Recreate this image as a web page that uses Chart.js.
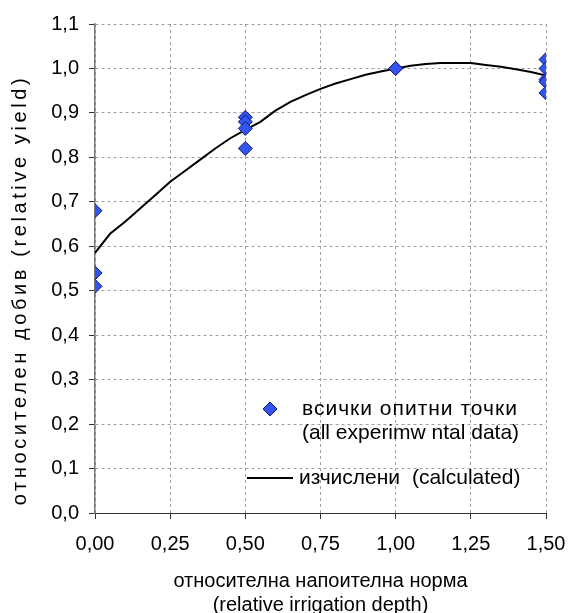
<!DOCTYPE html>
<html>
<head>
<meta charset="utf-8">
<script src="https://cdn.jsdelivr.net/npm/chart.js@4/dist/chart.umd.min.js"></script>
<style>
html,body{margin:0;padding:0;background:#fff;}
#wrap{width:568px;height:613px;position:relative;}
</style>
</head>
<body>
<div id="wrap"><canvas id="c" width="568" height="613"></canvas></div>
<script>
// Observed points (all experimental data)
const obsX = [0, 0, 0, 0.5, 0.5, 0.5, 0.5, 1.0, 1.0, 1.5, 1.5, 1.5, 1.5, 1.5];
const obsY = [0.68, 0.54, 0.51, 0.89, 0.88, 0.865, 0.82, 1.0, 1.0, 1.02, 1.0, 0.975, 0.97, 0.945];

// Calculated curve
const calcX = [0, 0.05, 0.1, 0.15, 0.2, 0.25, 0.3, 0.35, 0.4, 0.45, 0.5, 0.55, 0.6, 0.65, 0.7, 0.75,
               0.8, 0.85, 0.9, 0.95, 1.0, 1.05, 1.1, 1.15, 1.2, 1.25, 1.3, 1.35, 1.4, 1.45, 1.5];
const calcY = [0.585, 0.628, 0.655, 0.685, 0.715, 0.745, 0.770, 0.795, 0.820, 0.843, 0.862, 0.880,
               0.905, 0.925, 0.940, 0.954, 0.966, 0.976, 0.986, 0.993, 1.000, 1.006, 1.010, 1.012,
               1.012, 1.012, 1.008, 1.004, 0.998, 0.992, 0.984];

const yTicks = [0, 0.1, 0.2, 0.3, 0.4, 0.5, 0.6, 0.7, 0.8, 0.9, 1.0, 1.1];
const xTicks = [0, 0.25, 0.5, 0.75, 1.0, 1.25, 1.5];

const legendLabels = [['всички опитни точки', '(all experimw ntal data)'], ['изчислени (calculated)']];
const yTitle = 'относителен добив (relative yield)';
const xTitle = ['относителна напоителна норма', '(relative irrigation depth)'];

const FONT = '"Liberation Sans", Arial, sans-serif';
const PT_FILL = '#3355ee';
const PT_BORDER = '#101a80';

const textPlugin = {
  id: 'customText',
  afterDraw(chart) {
    const ctx = chart.ctx;
    const ca = chart.chartArea;
    ctx.save();
    // y-axis title (rotated, spaced like the original)
    ctx.save();
    ctx.translate(20, 290);
    ctx.rotate(-Math.PI / 2);
    ctx.font = '20px ' + FONT;
    ctx.letterSpacing = '3.6px';
    ctx.fillStyle = '#000';
    ctx.textAlign = 'center';
    ctx.textBaseline = 'middle';
    ctx.fillText(yTitle, 0, 0);
    ctx.restore();

    ctx.font = '21px ' + FONT;
    ctx.fillStyle = '#000';
    ctx.textBaseline = 'middle';
    ctx.textAlign = 'left';
    // diamond marker
    const dx = ca.left + 175, dy = ca.top + 385;
    const r = 7;
    ctx.beginPath();
    ctx.moveTo(dx, dy - r); ctx.lineTo(dx + r, dy); ctx.lineTo(dx, dy + r); ctx.lineTo(dx - r, dy); ctx.closePath();
    ctx.fillStyle = PT_FILL; ctx.fill();
    ctx.strokeStyle = PT_BORDER; ctx.lineWidth = 1; ctx.stroke();
    ctx.fillStyle = '#000';
    ctx.letterSpacing = '1px';
    ctx.fillText(legendLabels[0][0], ca.left + 207, dy);
    ctx.letterSpacing = '0px';
    ctx.fillText(legendLabels[0][1], ca.left + 207, dy + 24);
    // line sample
    const ly = ca.top + 454;
    ctx.beginPath();
    ctx.moveTo(ca.left + 152, ly); ctx.lineTo(ca.left + 198, ly);
    ctx.strokeStyle = '#000'; ctx.lineWidth = 2; ctx.stroke();
    ctx.wordSpacing = '6px';
    ctx.fillText(legendLabels[1][0], ca.left + 204, ly);
    ctx.restore();
  }
};

new Chart(document.getElementById('c'), {
  type: 'scatter',
  data: {
    datasets: [
      {
        label: 'obs',
        data: obsX.map((x, i) => ({x: x, y: obsY[i]})),
        pointStyle: 'rectRot',
        pointRadius: 7,
        pointBackgroundColor: PT_FILL,
        pointBorderColor: PT_BORDER,
        pointBorderWidth: 1,
        showLine: false,
        order: 0
      },
      {
        label: 'calc',
        data: calcX.map((x, i) => ({x: x, y: calcY[i]})),
        showLine: true,
        borderColor: '#000',
        borderWidth: 2,
        pointRadius: 0,
        tension: 0,
        order: 1
      }
    ]
  },
  options: {
    responsive: false,
    animation: false,
    devicePixelRatio: 1,
    layout: {padding: {left: 0, right: 22, top: 24, bottom: 0}},
    plugins: {legend: {display: false}, tooltip: {enabled: false}},
    scales: {
      x: {
        type: 'linear',
        min: 0, max: 1.5,
        afterBuildTicks: (s) => { s.ticks = xTicks.map(v => ({value: v})); },
        afterFit: (s) => { s.height = 100; s.paddingLeft = 0; s.paddingRight = 0; },
        ticks: {
          color: '#000',
          font: {family: FONT, size: 20},
          padding: 13,
          maxRotation: 0,
          callback: (v) => Number(v).toFixed(2).replace('.', ',')
        },
        grid: {
          color: '#a0a0a0',
          lineWidth: 1,
          drawTicks: true,
          tickLength: 6,
          tickColor: '#333',
          tickBorderDash: [],
          tickWidth: 1
        },
        border: {display: true, color: '#333', width: 1, dash: [3, 3]},
        title: {
          display: true,
          text: xTitle,
          color: '#000',
          font: {family: FONT, size: 20, lineHeight: 1.2},
          padding: {top: 0, bottom: -4}
        }
      },
      y: {
        type: 'linear',
        min: 0, max: 1.1,
        afterBuildTicks: (s) => { s.ticks = yTicks.map(v => ({value: v})); },
        afterFit: (s) => { s.width = 95; s.paddingTop = 0; s.paddingBottom = 0; },
        ticks: {
          color: '#000',
          font: {family: FONT, size: 20},
          padding: 10,
          callback: (v) => Number(v).toFixed(1).replace('.', ',')
        },
        grid: {
          color: '#a0a0a0',
          lineWidth: 1,
          drawTicks: true,
          tickLength: 6,
          tickColor: '#333',
          tickBorderDash: [],
          tickWidth: 1
        },
        border: {display: true, color: '#777', width: 1.5, dash: [3, 3]},
        title: {display: false}
      }
    }
  },
  plugins: [textPlugin]
});
</script>
</body>
</html>
